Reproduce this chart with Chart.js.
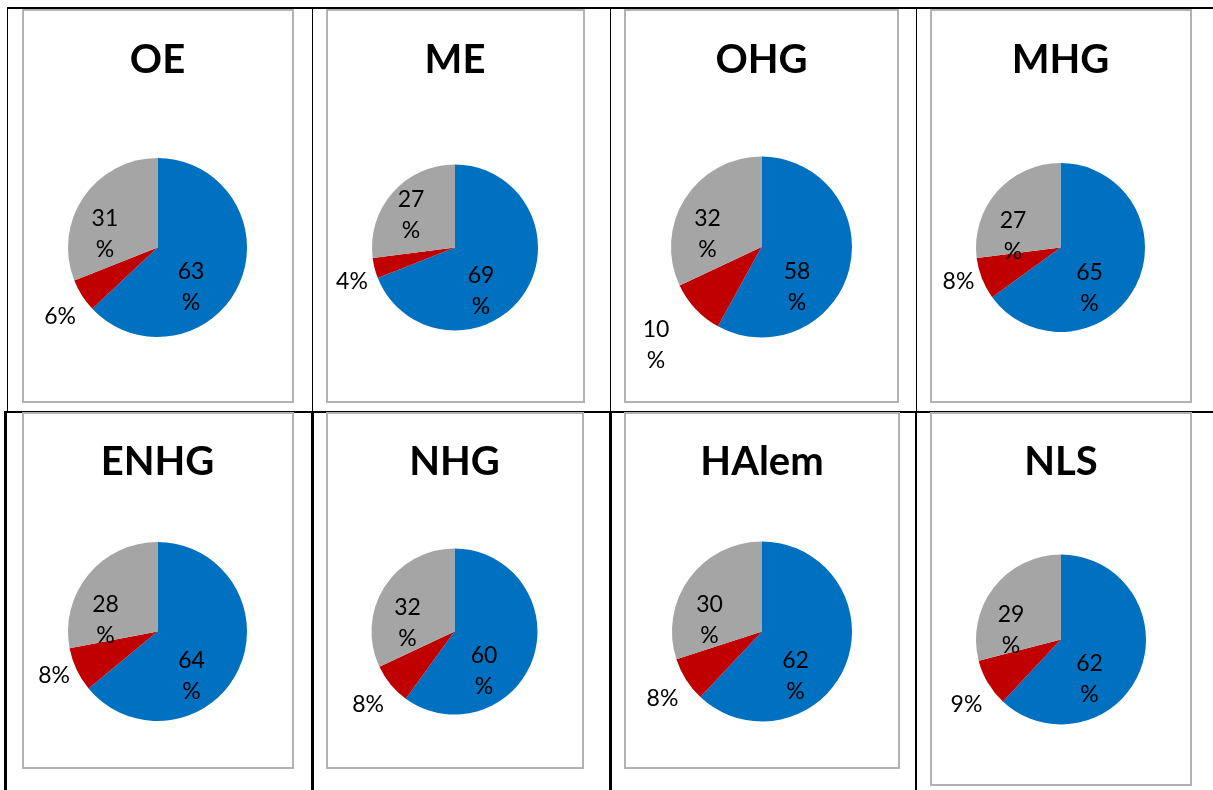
<!DOCTYPE html>
<html>
<head>
<meta charset="utf-8">
<script src="https://cdn.jsdelivr.net/npm/chart.js@4.4.1/dist/chart.umd.min.js"></script>
<style>
  body { margin: 0; background: #fff; width: 1213px; height: 790px; overflow: hidden; position: relative; }
  .rule { position: absolute; background: #000; }
  .box { position: absolute; box-sizing: border-box; border: 2px solid #b2b2b2; }
  canvas { position: absolute; }
</style>
</head>
<body>
<!-- table grid -->
<div class="rule" style="left:7px;top:7px;width:1206px;height:2px"></div>
<div class="rule" style="left:4px;top:411px;width:1209px;height:2px"></div>
<div class="rule" style="left:7px;top:7px;width:1px;height:405px"></div>
<div class="rule" style="left:312px;top:7px;width:1px;height:405px"></div>
<div class="rule" style="left:610px;top:7px;width:1px;height:405px"></div>
<div class="rule" style="left:916px;top:7px;width:1px;height:405px"></div>
<div class="rule" style="left:4px;top:411px;width:3px;height:379px"></div>
<div class="rule" style="left:311px;top:411px;width:3px;height:379px"></div>
<div class="rule" style="left:609px;top:411px;width:3px;height:379px"></div>
<div class="rule" style="left:915px;top:411px;width:2px;height:379px"></div>

<script>
// data
const titles = ['OE', 'ME', 'OHG', 'MHG', 'ENHG', 'NHG', 'HAlem', 'NLS'];
const categories = ['Category 1', 'Category 2', 'Category 3'];
const blueShare = [63, 69, 58, 65, 64, 60, 62, 62];
const redShare  = [6, 4, 10, 8, 8, 8, 8, 9];
const grayShare = [31, 27, 32, 27, 28, 32, 30, 29];

// layout (page pixels)
const boxes = [
  [22, 9, 272, 394], [326, 9, 259, 394], [624, 9, 275, 394], [930, 9, 262, 394],
  [22, 412, 272, 357], [326, 412, 258, 357], [624, 412, 276, 357], [930, 412, 262, 374]
];
const pieCenters = [
  [157.5, 247.5], [455, 247.5], [761.5, 247], [1060.5, 247.5],
  [157.5, 631.5], [454.5, 631.5], [762, 631.5], [1061, 639.5]
];
const pieRadii = [89.5, 83, 90.5, 84.5, 89.5, 83, 90, 85];
const titleMidY = [61, 61, 61, 61, 463, 463, 463, 463];
// label block centres relative to the pie centre, in radii
const labelOffsets = [
  [[0.374, 0.447], [-1.089, 0.777], [-0.587, -0.151]],
  [[0.313, 0.524], [-1.241, 0.416], [-0.530, -0.386]],
  [[0.392, 0.448], [-1.166, 1.083], [-0.597, -0.138]],
  [[0.343, 0.485], [-1.207, 0.408], [-0.562, -0.130]],
  [[0.380, 0.497], [-1.156, 0.497], [-0.581, -0.128]],
  [[0.355, 0.482], [-1.042, 0.886], [-0.566, -0.102]],
  [[0.372, 0.494], [-1.106, 0.750], [-0.583, -0.128]],
  [[0.335, 0.465], [-1.112, 0.771], [-0.588, -0.112]]
];
const sliceColors = ['#0070C0', '#C00000', '#A5A5A5'];

const titleSize = 40;
const titleLine = titleSize * 1.2;

const sliceLabels = {
  id: 'sliceLabels',
  afterDatasetsDraw(chart, args, opts) {
    const ctx = chart.ctx;
    const meta = chart.getDatasetMeta(0);
    const values = chart.data.datasets[0].data;
    ctx.save();
    ctx.font = '23px Lato';
    ctx.fillStyle = '#000';
    ctx.textAlign = 'center';
    ctx.textBaseline = 'middle';
    meta.data.forEach((arc, k) => {
      const off = opts.offsets[k];
      const x = arc.x + off[0] * arc.outerRadius;
      const y = arc.y + off[1] * arc.outerRadius;
      const v = values[k];
      // two-digit labels wrap onto two lines like in the original
      const lines = v >= 10 ? [String(v), '%'] : [v + '%'];
      lines.forEach((t, j) => {
        ctx.fillText(t, x, y + (j - (lines.length - 1) / 2) * 31);
      });
    });
    ctx.restore();
  }
};

titles.forEach((name, i) => {
  const [bx, by, bw, bh] = boxes[i];
  const [cx, cy] = pieCenters[i];
  const r = pieRadii[i];

  const frame = document.createElement('div');
  frame.className = 'box';
  frame.style.left = bx + 'px';
  frame.style.top = by + 'px';
  frame.style.width = bw + 'px';
  frame.style.height = bh + 'px';
  document.body.appendChild(frame);

  const canvas = document.createElement('canvas');
  canvas.width = bw;
  canvas.height = bh;
  canvas.style.left = bx + 'px';
  canvas.style.top = by + 'px';
  document.body.appendChild(canvas);

  const padTop = titleMidY[i] - by - titleLine / 2 - 1;
  const padBottom = (cy - r - by) - padTop - titleLine;

  new Chart(canvas, {
    type: 'pie',
    data: {
      labels: categories,
      datasets: [{
        data: [blueShare[i], redShare[i], grayShare[i]],
        backgroundColor: sliceColors,
        borderWidth: 0
      }]
    },
    options: {
      responsive: false,
      animation: false,
      layout: {
        padding: {
          left: cx - r - bx,
          right: bx + bw - (cx + r),
          top: 0,
          bottom: by + bh - (cy + r)
        }
      },
      plugins: {
        legend: { display: false },
        tooltip: { enabled: false },
        title: {
          display: true,
          text: name,
          color: '#000',
          font: { family: 'Lato', size: titleSize, weight: 'bold', lineHeight: 1.2 },
          padding: { top: padTop, bottom: padBottom }
        },
        sliceLabels: { offsets: labelOffsets[i] }
      }
    },
    plugins: [sliceLabels]
  });
});
</script>
</body>
</html>
